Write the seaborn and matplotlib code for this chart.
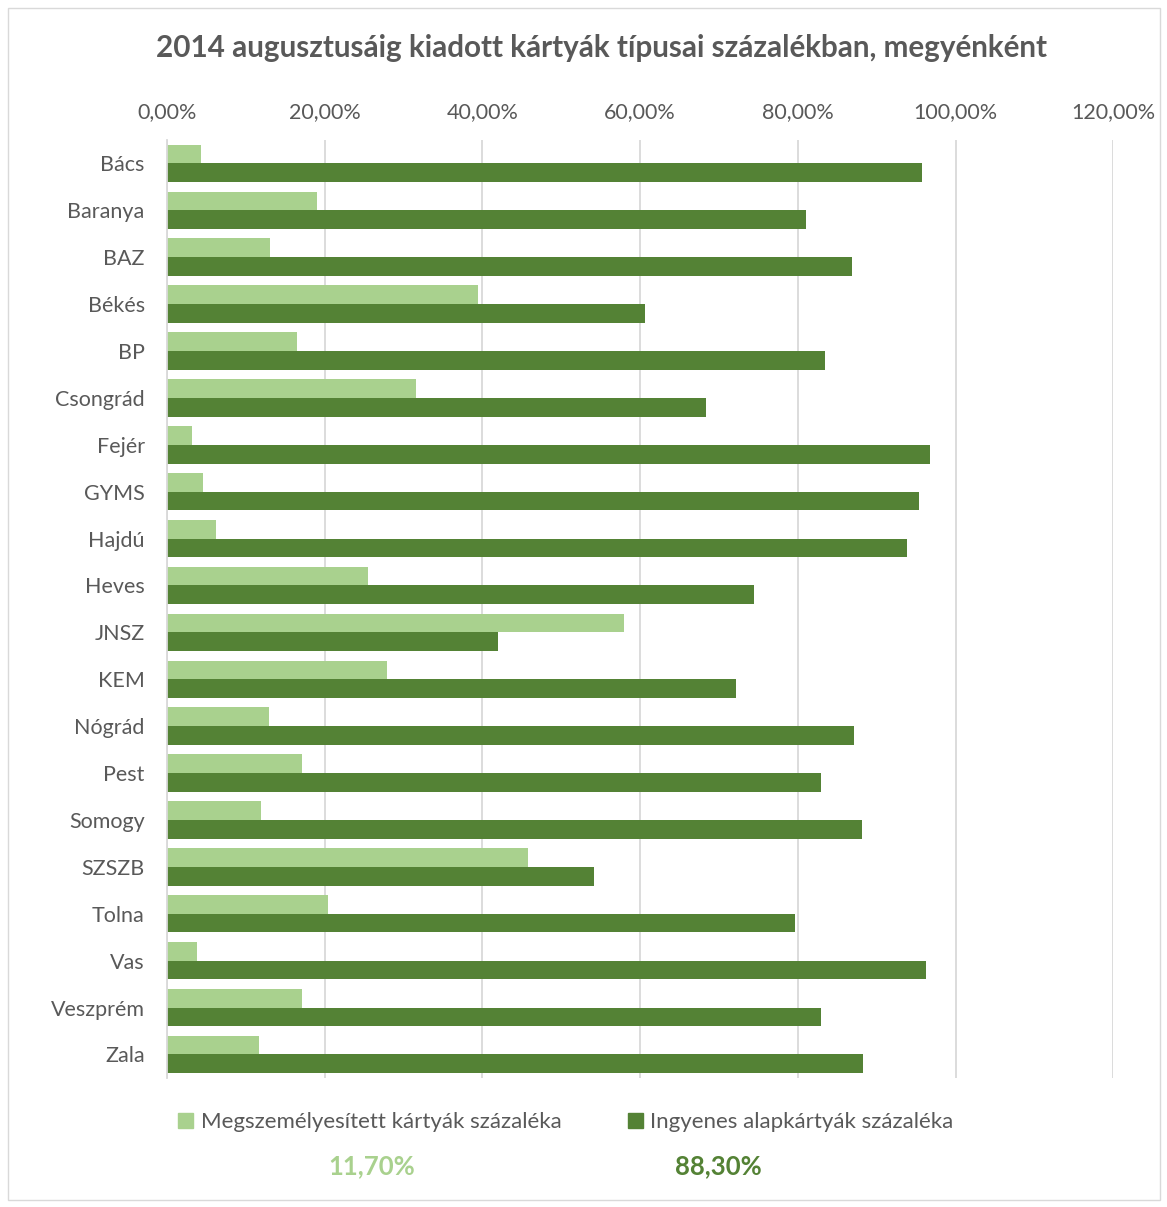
import numpy as np
import pandas as pd
import matplotlib
matplotlib.use("Agg")
import matplotlib.pyplot as plt
import seaborn as sns
from matplotlib.ticker import FuncFormatter
from matplotlib.patches import Rectangle

# megyék es a két sorozat (százalékban)
megyek = ['Bács', 'Baranya', 'BAZ', 'Békés', 'BP', 'Csongrád', 'Fejér', 'GYMS',
          'Hajdú', 'Heves', 'JNSZ', 'KEM', 'Nógrád', 'Pest', 'Somogy', 'SZSZB',
          'Tolna', 'Vas', 'Veszprém', 'Zala']
megszemelyesitett = [4.3, 19.0, 13.1, 39.4, 16.5, 31.6, 3.2, 4.6, 6.2, 25.5,
                     58.0, 27.9, 12.9, 17.1, 11.9, 45.8, 20.4, 3.8, 17.1, 11.7]
ingyenes = [95.7, 81.0, 86.9, 60.6, 83.5, 68.4, 96.8, 95.4, 93.8, 74.5,
            42.0, 72.1, 87.1, 82.9, 88.1, 54.2, 79.6, 96.2, 82.9, 88.3]
sorozatok = ['Megszemélyesített kártyák százaléka', 'Ingyenes alapkártyák százaléka']
osszesen = ['11,70%', '88,30%']
szinek = ['#A9D18E', '#548235']

df = pd.DataFrame({
    'megye': megyek * 2,
    'ertek': megszemelyesitett + ingyenes,
    'sorozat': [sorozatok[0]] * len(megyek) + [sorozatok[1]] * len(megyek),
})

sns.set_style('white')
plt.rcParams['font.family'] = ['Lato', 'DejaVu Sans']
szurke = '#595959'

fig = plt.figure(figsize=(11.67, 12.07), dpi=100)
ax = fig.add_axes([0.143, 0.107, 0.811, 0.777])

sns.barplot(data=df, y='megye', x='ertek', hue='sorozat', order=megyek,
            hue_order=sorozatok, palette=szinek, orient='h', width=0.8,
            saturation=1, linewidth=0, ax=ax, legend=False)

ax.set_xlim(0, 120)
ax.set_xticks(np.arange(0, 121, 20))
ax.xaxis.set_major_formatter(FuncFormatter(lambda v, p: f'{v:.2f}%'.replace('.', ',')))
ax.xaxis.tick_top()
ax.tick_params(axis='x', length=0, pad=13, labelsize=15.5, labelcolor=szurke)
ax.tick_params(axis='y', length=0, pad=16, labelsize=15.5, labelcolor=szurke)
ax.set_xlabel('')
ax.set_ylabel('')
ax.grid(axis='x', color='#D9D9D9', linewidth=1.3)
ax.set_axisbelow(True)
for s in ['top', 'right', 'bottom']:
    ax.spines[s].set_visible(False)
ax.spines['left'].set_color('#D9D9D9')
ax.spines['left'].set_linewidth(1.3)

fig.text(0.515, 1 - 48 / 1207, '2014 augusztusáig kiadott kártyák típusai százalékban, megyénként',
         ha='center', va='center', fontsize=21.3, fontweight='bold', color=szurke)

# jelmagyarázat
kezek = [Rectangle((0, 0), 1, 1, color=c) for c in szinek]
fig.legend(kezek, sorozatok, loc='center', bbox_to_anchor=(566 / 1167, 1 - 1122 / 1207), ncol=2,
           frameon=False, fontsize=16, labelcolor=szurke, handlelength=0.65,
           handleheight=0.65, handletextpad=0.35, columnspacing=3.0)
fig.text(372 / 1167, 1 - 1166 / 1207, osszesen[0], ha='center', va='center',
         fontsize=18.5, fontweight='bold', color=szinek[0])
fig.text(718 / 1167, 1 - 1166 / 1207, osszesen[1], ha='center', va='center',
         fontsize=18.5, fontweight='bold', color=szinek[1])

fig.patches.append(Rectangle((8 / 1167, 1 - 1200 / 1207), 1152 / 1167, 1192 / 1207,
                             transform=fig.transFigure, fill=False,
                             edgecolor='#D9D9D9', linewidth=1))

fig.savefig('out.png', dpi=100)
